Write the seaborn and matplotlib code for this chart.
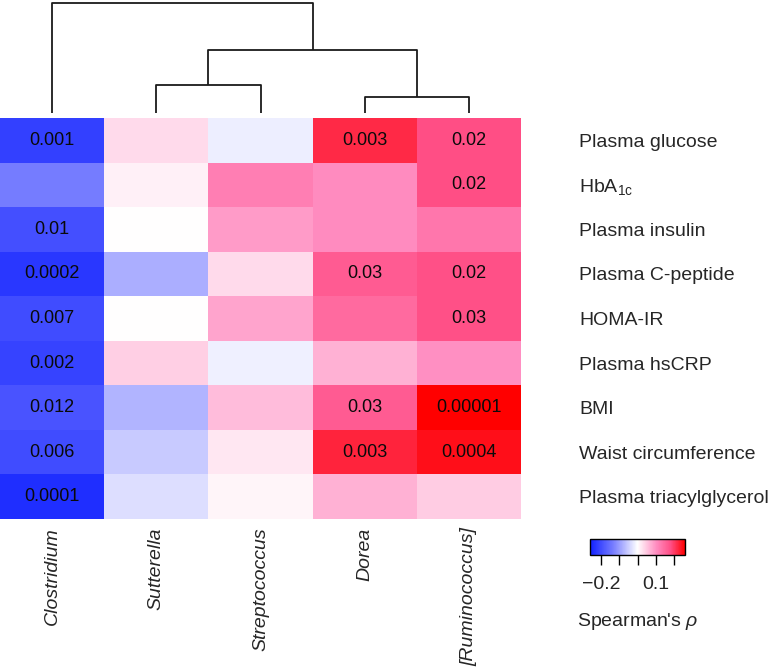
"""
plot.py – Spearman correlation heatmap of genera vs. metabolic traits, with column dendrogram.
"""

import numpy as np
import pandas as pd
import matplotlib
matplotlib.use("Agg")
import matplotlib.pyplot as plt
from matplotlib.colors import LinearSegmentedColormap
import seaborn as sns

# ── Data ─────────────────────────────────────────────────────────────────────

genera = ["Clostridium", "Sutterella", "Streptococcus", "Dorea", "[Ruminococcus]"]
traits = ["Plasma glucose", "HbA$_{\\mathrm{1c}}$", "Plasma insulin", "Plasma C-peptide",
          "HOMA-IR", "Plasma hsCRP", "BMI", "Waist circumference",
          "Plasma triacylglycerol"]

# Spearman's rho, one list per genus (rows = traits)
rho_clostridium = [-0.217, -0.135, -0.197, -0.228, -0.200, -0.213, -0.190, -0.200, -0.240]
rho_sutterella = [0.034, 0.014, 0.000, -0.083, 0.000, 0.043, -0.077, -0.053, -0.034]
rho_streptococcus = [-0.018, 0.120, 0.090, 0.033, 0.083, -0.015, 0.059, 0.021, 0.010]
rho_dorea = [0.218, 0.104, 0.104, 0.166, 0.147, 0.071, 0.166, 0.224, 0.071]
rho_ruminococcus = [0.182, 0.182, 0.130, 0.180, 0.180, 0.100, 0.258, 0.244, 0.046]

# P values printed in the cells ("" = not shown)
p_clostridium = ["0.001", "", "0.01", "0.0002", "0.007", "0.002", "0.012", "0.006", "0.0001"]
p_sutterella = [""] * 9
p_streptococcus = [""] * 9
p_dorea = ["0.003", "", "", "0.03", "", "", "0.03", "0.003", ""]
p_ruminococcus = ["0.02", "0.02", "", "0.02", "0.03", "", "0.00001", "0.0004", ""]

# column dendrogram: (child a, child b, height); nodes >= 5 are earlier merges
merges = [(1, 2, 0.28), (3, 4, 0.16), (5, 6, 0.63), (0, 7, 1.10)]

cbar_ticks = [-0.2, -0.1, 0.0, 0.1, 0.2]
cbar_labels = ["\u22120.2", "", "", "0.1", ""]

# ── Style ────────────────────────────────────────────────────────────────────

sns.set_style("white")
plt.rcParams["font.family"] = ["Liberation Sans", "DejaVu Sans"]
plt.rcParams["mathtext.fontset"] = "custom"
plt.rcParams["mathtext.rm"] = "Liberation Sans"
plt.rcParams["mathtext.it"] = "Liberation Sans:italic"

cmap = LinearSegmentedColormap.from_list(
    "bwr_pink",
    [(0.0, "#1020ff"), (0.25, "#7a80ff"), (0.5, "#ffffff"),
     (0.7, "#ff8cc0"), (0.85, "#ff4f86"), (1.0, "#ff0000")],
)

rho = pd.DataFrame(
    np.column_stack([rho_clostridium, rho_sutterella, rho_streptococcus,
                     rho_dorea, rho_ruminococcus]),
    index=traits, columns=genera,
)
annot = np.column_stack([p_clostridium, p_sutterella, p_streptococcus,
                         p_dorea, p_ruminococcus])

W, H = 776, 672
fig = plt.figure(figsize=(W / 100, H / 100), dpi=100)


def px_axes(x0, y0, x1, y1):
    return fig.add_axes([x0 / W, 1 - y1 / H, (x1 - x0) / W, (y1 - y0) / H])


ax = px_axes(0, 118, 521, 519)
cax = px_axes(590, 539, 685, 555)
dax = px_axes(0, 3, 521, 113)

# ── Heatmap ──────────────────────────────────────────────────────────────────

sns.heatmap(
    rho, ax=ax, cmap=cmap, vmin=-0.26, vmax=0.26,
    annot=annot, fmt="", annot_kws={"fontsize": 13, "color": "#0a0a0a"},
    cbar_ax=cax, cbar_kws={"orientation": "horizontal", "ticks": cbar_ticks},
)

ax.yaxis.tick_right()
ax.set_yticklabels(traits, rotation=0, fontsize=14, ha="left")
ax.set_xticklabels(genera, rotation=90, fontsize=14, style="italic",
                   va="top", ha="center")
ax.tick_params(axis="y", length=0, pad=42)
ax.tick_params(axis="x", length=0, pad=6)
ax.set_xlabel("")
ax.set_ylabel("")

# colour key
cbar = ax.collections[0].colorbar
cbar.outline.set_edgecolor("black")
cbar.outline.set_linewidth(1)
cax.set_xticklabels(cbar_labels, fontsize=14)
cax.tick_params(axis="x", direction="out", length=7, width=1, pad=8,
                bottom=True, color="black")
cax.set_xlabel("Spearman's $\\it{\\rho}$", fontsize=14, labelpad=13)

# ── Dendrogram ───────────────────────────────────────────────────────────────

node_x = {i: i + 0.5 for i in range(len(genera))}
node_h = {i: 0.0 for i in range(len(genera))}
for k, (a, b, h) in enumerate(merges):
    nid = len(genera) + k
    xa, xb = node_x[a], node_x[b]
    dax.plot([xa, xa, xb, xb], [node_h[a], h, h, node_h[b]],
             color="#1a1a1a", lw=1.3, clip_on=False, solid_capstyle="butt")
    node_x[nid] = (xa + xb) / 2
    node_h[nid] = h

dax.set_xlim(0, len(genera))
dax.set_ylim(0, 1.10)
dax.axis("off")

fig.savefig("out.png", dpi=100)
